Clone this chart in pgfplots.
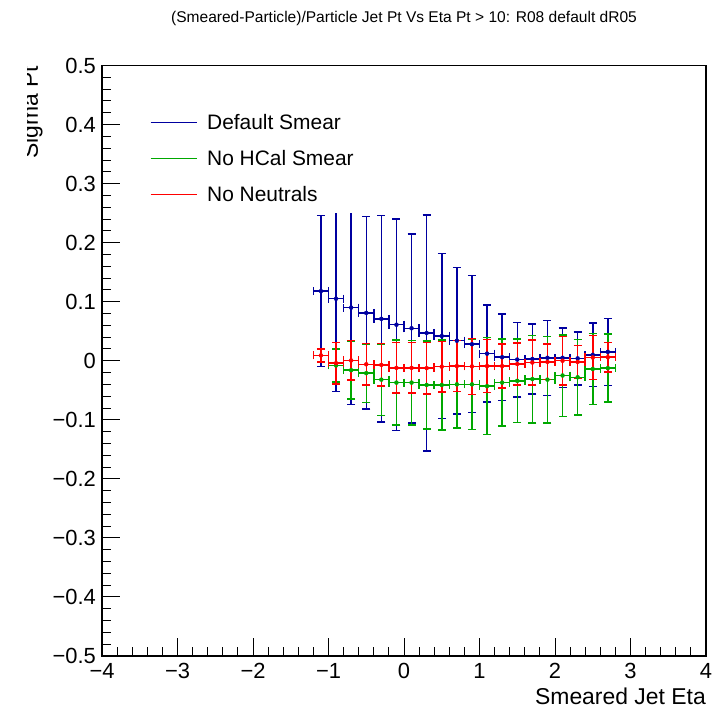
\documentclass[border=0pt]{standalone}
\usepackage{fontspec}
\setmainfont{Liberation Sans}
\usepackage{pgfplots}
\pgfplotsset{compat=1.18}
\usepackage{pgfplotstable}
\definecolor{rblue}{RGB}{0,0,160}
\definecolor{rgreen}{RGB}{0,168,0}
\definecolor{rred}{RGB}{255,0,0}

\pgfplotstableread{
x y ex ey
-1.1 0.118 0.1 0.128
-0.9 0.105 0.1 0.157
-0.7 0.090 0.1 0.164
-0.5 0.081 0.1 0.163
-0.3 0.071 0.1 0.175
-0.1 0.061 0.1 0.179
0.1 0.055 0.1 0.160
0.3 0.047 0.1 0.200
0.5 0.042 0.1 0.140
0.7 0.034 0.1 0.124
0.9 0.028 0.1 0.116
1.1 0.012 0.1 0.082
1.3 0.006 0.1 0.0735
1.5 0.002 0.1 0.063
1.7 0.003 0.1 0.0595
1.9 0.005 0.1 0.0635
2.1 0.005 0.1 0.0505
2.3 0.004 0.1 0.045
2.5 0.010 0.1 0.054
2.7 0.015 0.1 0.0565
}\blueT

\pgfplotstableread{
x y ex ey
-0.9 -0.008 0.1 0.028
-0.7 -0.016 0.1 0.049
-0.5 -0.021 0.1 0.0495
-0.3 -0.032 0.1 0.0605
-0.1 -0.037 0.1 0.072
0.1 -0.037 0.1 0.0715
0.3 -0.041 0.1 0.0745
0.5 -0.041 0.1 0.076
0.7 -0.040 0.1 0.074
0.9 -0.040 0.1 0.0765
1.1 -0.043 0.1 0.082
1.3 -0.037 0.1 0.0735
1.5 -0.034 0.1 0.0705
1.7 -0.031 0.1 0.074
1.9 -0.032 0.1 0.073
2.1 -0.025 0.1 0.069
2.3 -0.028 0.1 0.064
2.5 -0.014 0.1 0.060
2.7 -0.0125 0.1 0.0575
}\greenT

\pgfplotstableread{
x y ex ey
-1.1 0.009 0.1 0.011
-0.9 -0.004 0.1 0.035
-0.7 0.0005 0.1 0.0335
-0.5 -0.006 0.1 0.035
-0.3 -0.007 0.1 0.036
-0.1 -0.012 0.1 0.0425
0.1 -0.012 0.1 0.0425
0.3 -0.0125 0.1 0.0435
0.5 -0.010 0.1 0.043
0.7 -0.009 0.1 0.0435
0.9 -0.0095 0.1 0.0475
1.1 -0.009 0.1 0.045
1.3 -0.009 0.1 0.037
1.5 -0.0055 0.1 0.0355
1.7 -0.003 0.1 0.038
1.9 -0.002 0.1 0.030
2.1 0.000 0.1 0.041
2.3 -0.002 0.1 0.028
2.5 0.0055 0.1 0.0375
2.7 0.006 0.1 0.025
}\redT

\begin{document}
\begin{tikzpicture}
\begin{axis}[
  scale only axis, width=604bp, height=590.5bp,
  xmin=-4, xmax=4, ymin=-0.5, ymax=0.5,
  xtick={-4,-3,-2,-1,0,1,2,3,4},
  xticklabels={−4,−3,−2,−1,0,1,2,3,4},
  ytick={-0.5,-0.4,-0.3,-0.2,-0.1,0,0.1,0.2,0.3,0.4,0.5},
  yticklabels={−0.5,−0.4,−0.3,−0.2,−0.1,0,0.1,0.2,0.3,0.4,0.5},
  minor x tick num=4, minor y tick num=4,
  tick pos=left, tick align=inside,
  major tick length=18bp, minor tick length=9bp,
  tick style={black, line width=0.9bp},
  axis line style={black, line width=1.1bp},
  tick label style={font=\fontsize{22}{22}\selectfont, inner sep=0pt},
  xticklabel style={anchor=north, yshift=-7bp},
  yticklabel style={anchor=east, xshift=-6bp},
  title={(Smeared-Particle)/Particle Jet Pt Vs Eta Pt > 10: R08 default dR05},
  title style={at={(axis description cs:0.5,1)}, anchor=base, yshift=37.5bp, inner sep=0pt, font=\fontsize{15.6}{16}\selectfont},
  xlabel={Smeared Jet Eta},
  xlabel style={at={(axis description cs:1,0)}, anchor=base east, yshift=-48bp, inner sep=0pt, font=\fontsize{23}{23}\selectfont},
  ylabel={Sigma Pt},
  ylabel style={at={([xshift=-64bp]axis description cs:0,1)}, anchor=base east, inner sep=0pt, font=\fontsize{23}{23}\selectfont},
  legend image code/.code={\draw[#1, line width=1bp] (0bp,2bp) -- (46bp,2bp);},
  legend style={at={(axis cs:-3.497,0.2502)}, anchor=south west, draw=none, fill=white,
    inner xsep=10bp, inner ysep=6.5bp, row sep=16bp, column sep=10bp,
    font=\fontsize{21}{25}\selectfont,
    nodes={inner sep=0pt, text height=15bp, text depth=5bp}},
  legend cell align=left,
]
\addplot[rblue, only marks, mark=none, forget plot,
  error bars/.cd, x dir=both, x explicit, y dir=both, y explicit,
  error bar style={line width=1.5bp, rblue},
  error mark=|,
  error mark options={rblue, mark size=4bp, line width=1.5bp}]
  table[x=x, y=y, x error=ex, y error=ey] {\blueT};
\addplot[rgreen, only marks, mark=none, forget plot,
  error bars/.cd, x dir=both, x explicit, y dir=both, y explicit,
  error bar style={line width=1.5bp, rgreen},
  error mark=|,
  error mark options={rgreen, mark size=4bp, line width=1.5bp}]
  table[x=x, y=y, x error=ex, y error=ey] {\greenT};
\addplot[rred, only marks, mark=none, forget plot,
  error bars/.cd, x dir=both, x explicit, y dir=both, y explicit,
  error bar style={line width=1.5bp, rred},
  error mark=|,
  error mark options={rred, mark size=4bp, line width=1.5bp}]
  table[x=x, y=y, x error=ex, y error=ey] {\redT};
\addlegendimage{rblue}
\addlegendentry{Default Smear}
\addlegendimage{rgreen}
\addlegendentry{No HCal Smear}
\addlegendimage{rred}
\addlegendentry{No Neutrals}
\end{axis}
\fill[white] (-103bp,470bp) rectangle (-75bp,625bp);
\pgfresetboundingbox
\path[use as bounding box] (-102bp,-52bp) rectangle (612bp,656bp);
\end{tikzpicture}
\end{document}
